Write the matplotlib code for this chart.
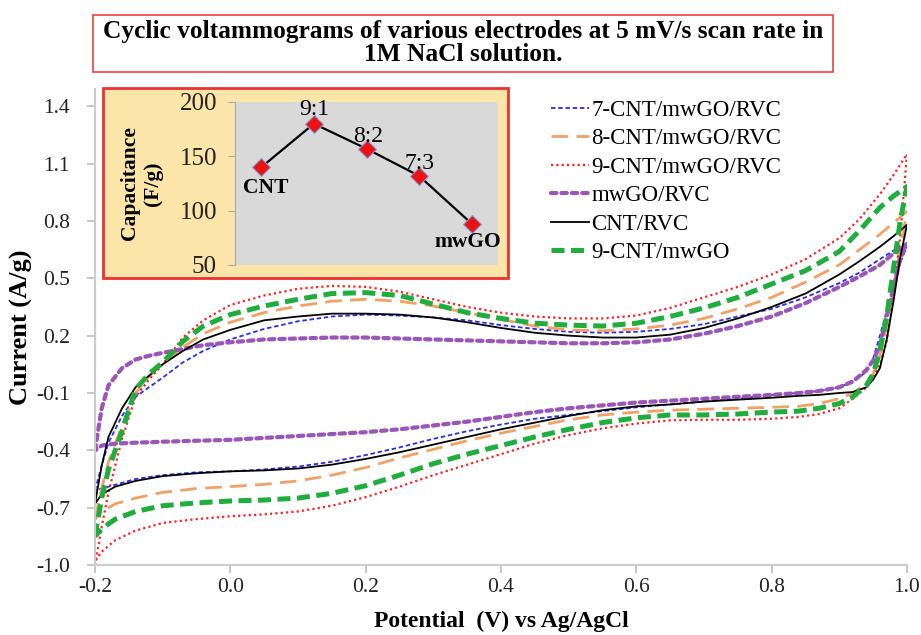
import numpy as np
import matplotlib
matplotlib.use('Agg')
import matplotlib.pyplot as plt
from matplotlib.patches import Rectangle

plt.rcParams['font.family'] = ['Liberation Serif', 'DejaVu Serif']

# ---- data ----
# forward scan potentials (V) and reverse scan potentials (V)
v_fwd = [-0.2, -0.19, -0.18, -0.16, -0.14, -0.12, -0.1, -0.07, -0.04, 0.0, 0.05, 0.1, 0.15, 0.2,
         0.25, 0.3, 0.35, 0.4, 0.45, 0.5, 0.55, 0.6, 0.65, 0.7, 0.75, 0.8, 0.85, 0.9, 0.93, 0.96,
         0.98, 1.0]
v_rev = [1.0, 0.99, 0.98, 0.97, 0.96, 0.95, 0.94, 0.92, 0.9, 0.87, 0.84, 0.8, 0.75, 0.7, 0.65,
         0.6, 0.55, 0.5, 0.45, 0.4, 0.35, 0.3, 0.25, 0.2, 0.15, 0.1, 0.05, 0.0, -0.05, -0.1,
         -0.14, -0.17, -0.19, -0.2]

# 7-CNT/mwGO/RVC
i7_fwd = [-0.61, -0.48, -0.36, -0.22, -0.12, -0.07, -0.02, 0.06, 0.12, 0.18, 0.235, 0.275, 0.3, 0.31,
          0.305, 0.295, 0.28, 0.255, 0.235, 0.22, 0.215, 0.22, 0.235, 0.26, 0.3, 0.34, 0.4, 0.475,
          0.53, 0.6, 0.645, 0.67]
i7_rev = [0.67, 0.58, 0.46, 0.33, 0.2, 0.08, 0.01, -0.04, -0.07, -0.09, -0.1, -0.11, -0.13, -0.145,
          -0.16, -0.175, -0.195, -0.215, -0.235, -0.265, -0.3, -0.34, -0.385, -0.425, -0.46, -0.485,
          -0.5, -0.51, -0.515, -0.53, -0.55, -0.58, -0.6, -0.61]
# 8-CNT/mwGO/RVC
i8_fwd = [-0.76, -0.6, -0.46, -0.27, -0.1, -0.01, 0.05, 0.14, 0.21, 0.27, 0.32, 0.355, 0.38, 0.39,
          0.38, 0.355, 0.32, 0.285, 0.25, 0.23, 0.225, 0.235, 0.255, 0.29, 0.34, 0.4, 0.48, 0.57,
          0.65, 0.73, 0.79, 0.85]
i8_rev = [0.85, 0.65, 0.45, 0.25, 0.1, 0.0, -0.05, -0.1, -0.13, -0.155, -0.17, -0.175, -0.18, -0.185,
          -0.19, -0.2, -0.215, -0.24, -0.275, -0.31, -0.35, -0.395, -0.44, -0.49, -0.53, -0.56,
          -0.578, -0.59, -0.6, -0.62, -0.65, -0.68, -0.72, -0.76]
# 9-CNT/mwGO/RVC
i9_fwd = [-1.0, -0.8, -0.62, -0.34, -0.12, -0.03, 0.05, 0.19, 0.28, 0.36, 0.41, 0.445, 0.46, 0.455,
          0.43, 0.39, 0.35, 0.32, 0.3, 0.29, 0.29, 0.305, 0.345, 0.4, 0.455, 0.52, 0.6, 0.71, 0.81,
          0.94, 1.04, 1.15]
i9_rev = [1.15, 0.72, 0.4, 0.17, 0.05, -0.02, -0.07, -0.13, -0.18, -0.21, -0.225, -0.235, -0.24,
          -0.24, -0.243, -0.26, -0.285, -0.32, -0.365, -0.42, -0.475, -0.53, -0.59, -0.645, -0.69,
          -0.72, -0.735, -0.745, -0.76, -0.78, -0.82, -0.87, -0.93, -0.98]
# mwGO/RVC
igo_fwd = [-0.4, -0.18, -0.06, 0.03, 0.075, 0.095, 0.11, 0.13, 0.15, 0.165, 0.18, 0.185, 0.19, 0.19,
           0.185, 0.18, 0.175, 0.17, 0.165, 0.16, 0.16, 0.165, 0.18, 0.21, 0.25, 0.3, 0.37, 0.455,
           0.51, 0.57, 0.63, 0.68]
igo_rev = [0.68, 0.6, 0.45, 0.3, 0.15, 0.07, 0.02, -0.04, -0.07, -0.09, -0.1, -0.11, -0.12, -0.13,
           -0.14, -0.15, -0.165, -0.18, -0.2, -0.225, -0.25, -0.27, -0.29, -0.305, -0.315, -0.325,
           -0.335, -0.345, -0.35, -0.355, -0.36, -0.365, -0.375, -0.4]
# CNT/RVC
icnt_fwd = [-0.68, -0.48, -0.33, -0.18, -0.07, -0.01, 0.05, 0.12, 0.18, 0.23, 0.28, 0.3, 0.315, 0.315,
            0.31, 0.295, 0.27, 0.24, 0.215, 0.2, 0.19, 0.19, 0.205, 0.24, 0.29, 0.35, 0.42, 0.52,
            0.59, 0.665, 0.72, 0.78]
icnt_rev = [0.78, 0.61, 0.38, 0.18, 0.03, -0.03, -0.07, -0.095, -0.1, -0.11, -0.115, -0.125, -0.135,
            -0.145, -0.16, -0.17, -0.19, -0.22, -0.255, -0.29, -0.33, -0.37, -0.41, -0.445, -0.475,
            -0.495, -0.505, -0.51, -0.52, -0.535, -0.56, -0.59, -0.63, -0.68]
# 9-CNT/mwGO
i9g_fwd = [-0.85, -0.65, -0.5, -0.3, -0.08, 0.0, 0.06, 0.17, 0.25, 0.31, 0.355, 0.39, 0.42, 0.425,
           0.41, 0.365, 0.32, 0.29, 0.265, 0.255, 0.25, 0.265, 0.3, 0.345, 0.4, 0.47, 0.54, 0.64,
           0.75, 0.87, 0.93, 0.98]
i9g_rev = [0.98, 0.8, 0.55, 0.3, 0.12, 0.0, -0.06, -0.12, -0.155, -0.18, -0.195, -0.2, -0.21, -0.215,
           -0.215, -0.23, -0.255, -0.29, -0.33, -0.375, -0.42, -0.47, -0.53, -0.585, -0.625, -0.65,
           -0.66, -0.665, -0.675, -0.69, -0.72, -0.76, -0.81, -0.85]

# inset: specific capacitance
cap_labels = ['CNT', '9:1', '8:2', '7:3', 'mwGO']
cap_values = [140, 180, 157, 132, 88]

y_ticks = [-1.0, -0.7, -0.4, -0.1, 0.2, 0.5, 0.8, 1.1, 1.4]
x_ticks = [-0.2, 0.0, 0.2, 0.4, 0.6, 0.8, 1.0]

# ---- figure ----
fig = plt.figure(figsize=(9.21, 6.35), dpi=100)
ax = fig.add_axes([0.1031, 0.1102, 0.8817, 0.7496])

styles = [
    ('7-CNT/mwGO/RVC', i7_fwd, i7_rev, dict(color='#2b2bf0', lw=1.3, dashes=(2.5, 1.5))),
    ('8-CNT/mwGO/RVC', i8_fwd, i8_rev, dict(color='#f2a065', lw=2.0, dashes=(6, 3))),
    ('9-CNT/mwGO/RVC', i9_fwd, i9_rev, dict(color='#ff2020', lw=1.6, dashes=(1, 1.4))),
    ('mwGO/RVC', igo_fwd, igo_rev, dict(color='#9a55b8', lw=3.0, dashes=(1.3, 1.2),
                                        dash_capstyle='round')),
    ('CNT/RVC', icnt_fwd, icnt_rev, dict(color='black', lw=1.3)),
    ('9-CNT/mwGO', i9g_fwd, i9g_rev, dict(color='#1fae3e', lw=3.6, dashes=(2.6, 1.3))),
]
for name, fwd, rev, st in styles:
    v = v_fwd + v_rev[1:]
    i = fwd + rev[1:]
    ax.plot(v, i, label=name, **st)

ax.set_xlim(-0.2, 1.0)
ax.set_ylim(-1.0, 1.49)
ax.set_xticks(x_ticks)
ax.set_xticklabels(['%.1f' % t for t in x_ticks])
ax.set_yticks(y_ticks)
ax.set_yticklabels(['%.1f' % t for t in y_ticks])
for s in ['top', 'right']:
    ax.spines[s].set_visible(False)
for s in ['left', 'bottom']:
    ax.spines[s].set_color('#cccccc')
    ax.spines[s].set_linewidth(1.5)
ax.tick_params(axis='both', colors='#bbbbbb', length=6, width=1.2, labelsize=15.5,
               labelcolor='#222222')
ax.tick_params(axis='y', pad=12)
ax.tick_params(axis='x', pad=3)
ax.set_xlabel('Potential  (V) vs Ag/AgCl', fontsize=17, fontweight='bold', labelpad=10)
ax.set_ylabel('Current (A/g)', fontsize=19, fontweight='bold', labelpad=2)

leg = ax.legend(loc='upper left', bbox_to_anchor=(551 / 921, 1 - 100 / 635),
                bbox_transform=fig.transFigure, frameon=False, fontsize=16.5,
                handlelength=1.65, handletextpad=0.1, labelspacing=0.32, borderaxespad=0,
                borderpad=0)

# title box
fig.patches.append(Rectangle((93 / 921, 1 - 72 / 635), 740 / 921, 57 / 635,
                             transform=fig.transFigure, facecolor='white',
                             edgecolor='#f04040', lw=1.2))
fig.text(463 / 921, 1 - 43 / 635,
         'Cyclic voltammograms of various electrodes at 5 mV/s scan rate in\n1M NaCl solution.',
         ha='center', va='center', fontsize=18.3, fontweight='bold', linespacing=1.0)

# inset box
fig.patches.append(Rectangle((103 / 921, 1 - 278 / 635), 405 / 921, 190 / 635,
                             transform=fig.transFigure, facecolor='#fbe5a8',
                             edgecolor='#f03030', lw=2, zorder=2))
ins = fig.add_axes([235 / 921, 1 - 265 / 635, 263 / 921, 163 / 635], zorder=3)
ins.set_facecolor('#d9d9d9')
xs = np.arange(len(cap_values))
ins.plot(xs, cap_values, color='black', lw=1.6, marker='D', ms=9, mfc='#ee1111',
         mec='#7fa0dd', mew=0.8)
ins.set_xlim(-0.5, len(cap_values) - 0.5)
ins.set_ylim(50, 200)
ins.set_yticks([50, 100, 150, 200])
ins.set_xticks([])
for s in ['top', 'right', 'bottom']:
    ins.spines[s].set_visible(False)
ins.spines['left'].set_color('#aaaaaa')
ins.tick_params(axis='y', colors='#aaaaaa', length=5, labelsize=18, labelcolor='#222222', pad=8)
ins.set_ylabel('Capacitance\n(F/g)', fontsize=15.5, fontweight='bold', linespacing=1.2,
               labelpad=12)

offsets = {'CNT': (3, -15, 'bold'), '9:1': (0, 10, 'normal'), '8:2': (1, 9, 'normal'),
           '7:3': (0, 9, 'normal'), 'mwGO': (-3, -13, 'bold')}
for x, y, lab in zip(xs, cap_values, cap_labels):
    dx, dy, w = offsets[lab]
    ins.annotate(lab, (x, y), xytext=(dx, dy), textcoords='offset points', ha='center',
                 va='center', fontsize=17 if w == 'normal' else 15.5, fontweight=w)

fig.savefig('out.png', dpi=100)
